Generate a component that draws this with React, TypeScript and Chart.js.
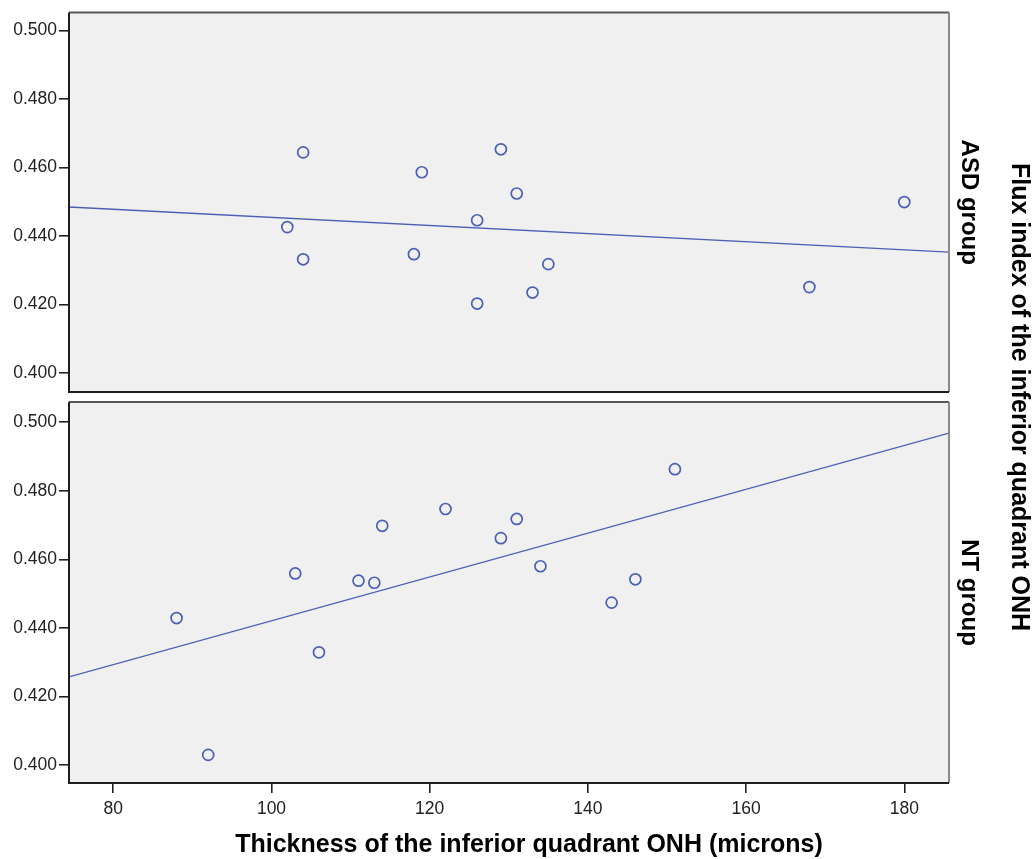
import React, { useEffect, useRef } from 'react';
import { Chart, registerables } from 'chart.js';

Chart.register(...registerables);

// ---- Data ----
const asdThickness = [104, 102, 104, 119, 118, 126, 126, 129, 131, 133, 135, 168, 180];
const asdFlux = [0.4644, 0.4426, 0.4332, 0.4586, 0.4347, 0.4446, 0.4203, 0.4653, 0.4524, 0.4235, 0.4318, 0.4251, 0.4499];
const ntThickness = [88, 92, 103, 106, 111, 113, 114, 122, 129, 131, 134, 143, 146, 151];
const ntFlux = [0.4429, 0.4030, 0.4559, 0.4329, 0.4538, 0.4532, 0.4698, 0.4747, 0.4662, 0.4718, 0.4580, 0.4474, 0.4542, 0.4863];

const xTicks = [80, 100, 120, 140, 160, 180];
const yTicks = [0.4, 0.42, 0.44, 0.46, 0.48, 0.5];
const xRange = [74.4, 185.65];
const asdYRange = [0.3945, 0.5052];
const ntYRange = [0.3948, 0.5059];

const panelLabels = ['ASD group', 'NT group'];
const xTitle = 'Thickness of the inferior quadrant ONH (microns)';
const yTitle = 'Flux index of the inferior quadrant ONH';

// ---- Styles ----
const BLUE = '#4b5fb6';
const FONT = "'Liberation Sans', Arial, sans-serif";
const TICK_COLOR = '#222222';
const W = 1035;
const H = 859;

function linearFit(xs: number[], ys: number[]) {
  const n = xs.length;
  const mx = xs.reduce((a, b) => a + b, 0) / n;
  const my = ys.reduce((a, b) => a + b, 0) / n;
  let sxy = 0;
  let sxx = 0;
  for (let i = 0; i < n; i++) {
    sxy += (xs[i] - mx) * (ys[i] - my);
    sxx += (xs[i] - mx) * (xs[i] - mx);
  }
  const b = sxy / sxx;
  const a = my - b * mx;
  return (x: number) => a + b * x;
}

const panelPlugin = (label: string, drawShared: boolean) => ({
  id: 'panel_' + label.replace(/\s/g, ''),
  beforeDraw(chart: any) {
    const { ctx, chartArea } = chart;
    ctx.save();
    ctx.fillStyle = '#f0f0f0';
    ctx.fillRect(chartArea.left, chartArea.top, chartArea.right - chartArea.left, chartArea.bottom - chartArea.top);
    ctx.restore();
  },
  afterDraw(chart: any) {
    const { ctx, chartArea } = chart;
    const { left, right, top, bottom } = chartArea;
    ctx.save();
    // frame
    ctx.lineWidth = 2;
    ctx.strokeStyle = '#555555';
    ctx.beginPath();
    ctx.moveTo(left, top);
    ctx.lineTo(right, top);
    ctx.stroke();
    ctx.strokeStyle = '#8a8a8a';
    ctx.beginPath();
    ctx.moveTo(right, top);
    ctx.lineTo(right, bottom);
    ctx.stroke();
    ctx.strokeStyle = '#1e1e1e';
    ctx.beginPath();
    ctx.moveTo(left, top);
    ctx.lineTo(left, bottom);
    ctx.lineTo(right, bottom);
    ctx.stroke();

    // panel label (rotated, reading top to bottom)
    ctx.fillStyle = '#000';
    ctx.font = `bold 24px ${FONT}`;
    ctx.textAlign = 'center';
    ctx.textBaseline = 'alphabetic';
    ctx.save();
    ctx.translate(right + 13, (top + bottom) / 2);
    ctx.rotate(Math.PI / 2);
    ctx.fillText(label, 0, 0);
    ctx.restore();

    if (drawShared) {
      ctx.font = `bold 25px ${FONT}`;
      ctx.save();
      ctx.translate(1012, 397);
      ctx.rotate(Math.PI / 2);
      ctx.fillText(yTitle, 0, 0);
      ctx.restore();
      ctx.fillText(xTitle, 529, 852);
    }
    ctx.restore();
  },
});

function makeConfig(
  xs: number[],
  ys: number[],
  yRange: number[],
  label: string,
  showX: boolean,
  padding: { top: number; bottom: number; left: number; right: number }
): any {
  const f = linearFit(xs, ys);
  const points = xs.map((x, i) => ({ x, y: ys[i] }));
  const fitLine = [
    { x: xRange[0], y: f(xRange[0]) },
    { x: xRange[1], y: f(xRange[1]) },
  ];
  const tickFont = { family: FONT, size: 17.5 };
  return {
    type: 'scatter',
    data: {
      datasets: [
        {
          type: 'line',
          data: fitLine,
          borderColor: BLUE,
          borderWidth: 1.3,
          pointRadius: 0,
          fill: false,
          showLine: true,
          order: 2,
        },
        {
          type: 'scatter',
          data: points,
          pointStyle: 'circle',
          pointRadius: 5.5,
          pointHoverRadius: 5.5,
          borderColor: BLUE,
          pointBorderColor: BLUE,
          pointBackgroundColor: 'rgba(0,0,0,0)',
          backgroundColor: 'rgba(0,0,0,0)',
          pointBorderWidth: 1.7,
          borderWidth: 1.7,
          order: 1,
        },
      ],
    },
    options: {
      responsive: false,
      animation: false,
      devicePixelRatio: 1,
      layout: { padding },
      plugins: {
        legend: { display: false },
        tooltip: { enabled: false },
        title: { display: false },
      },
      scales: {
        x: {
          type: 'linear',
          min: xRange[0],
          max: xRange[1],
          display: showX,
          grid: {
            drawOnChartArea: false,
            drawTicks: true,
            tickLength: 10,
            color: TICK_COLOR,
            lineWidth: 1.6,
          },
          border: { display: false },
          ticks: {
            font: tickFont,
            color: TICK_COLOR,
            padding: 6,
            maxRotation: 0,
            autoSkip: false,
          },
          afterBuildTicks: (s: any) => {
            s.ticks = xTicks.map((v) => ({ value: v }));
          },
          afterFit: (s: any) => {
            s.height = showX ? 76 : 0;
          },
        },
        y: {
          type: 'linear',
          min: yRange[0],
          max: yRange[1],
          position: 'left',
          grid: {
            drawOnChartArea: false,
            drawTicks: true,
            tickLength: 10,
            color: TICK_COLOR,
            lineWidth: 1.6,
          },
          border: { display: false },
          ticks: {
            font: tickFont,
            color: TICK_COLOR,
            padding: 2,
            autoSkip: false,
            callback: (v: any) => Number(v).toFixed(3),
          },
          afterBuildTicks: (s: any) => {
            s.ticks = yTicks.map((v) => ({ value: v }));
          },
          afterFit: (s: any) => {
            s.width = 69;
          },
        },
      },
    },
    plugins: [panelPlugin(label, showX)],
  };
}

export default function App() {
  const topRef = useRef<HTMLCanvasElement>(null);
  const botRef = useRef<HTMLCanvasElement>(null);

  useEffect(() => {
    if (!topRef.current || !botRef.current) return;
    const top = new Chart(
      topRef.current,
      makeConfig(asdThickness, asdFlux, asdYRange, panelLabels[0], false, {
        top: 12,
        bottom: H - 392,
        left: 0,
        right: W - 949,
      })
    );
    const bot = new Chart(
      botRef.current,
      makeConfig(ntThickness, ntFlux, ntYRange, panelLabels[1], true, {
        top: 402,
        bottom: 0,
        left: 0,
        right: W - 949,
      })
    );
    return () => {
      top.destroy();
      bot.destroy();
    };
  }, []);

  return (
    <div style={{ position: 'absolute', left: 0, top: 0, width: W, height: H, background: '#fff' }}>
      <canvas ref={botRef} width={W} height={H} style={{ position: 'absolute', left: 0, top: 0 }} />
      <canvas ref={topRef} width={W} height={H} style={{ position: 'absolute', left: 0, top: 0 }} />
    </div>
  );
}
